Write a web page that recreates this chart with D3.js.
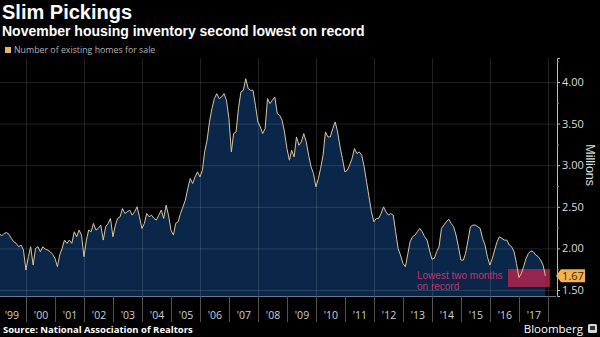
<!DOCTYPE html>
<html>
<head>
<meta charset="utf-8">
<script src="https://cdn.jsdelivr.net/npm/d3@7"></script>
<style>
  html, body { margin: 0; padding: 0; background: #000; }
  svg { display: block; font-family: "Open Sans", sans-serif; }
</style>
</head>
<body>
<svg id="chart" width="600" height="337"></svg>
<script>
// Existing homes for sale, millions, monthly (Jan..Dec)
const inv1999 = [2.18, 2.15, 2.18, 2.19, 2.17, 2.12, 2.08, 2.06, 2.02, 2.04, 1.98, 1.74];
const inv2000 = [1.90, 2.02, 1.80, 2.00, 2.02, 1.96, 2.02, 1.99, 1.98, 1.96, 1.93, 1.88];
const inv2001 = [1.78, 1.92, 2.00, 2.10, 2.06, 2.10, 2.06, 2.20, 2.14, 2.22, 2.16, 1.90];
const inv2002 = [2.10, 2.22, 2.20, 2.30, 2.22, 2.24, 2.28, 2.10, 2.26, 2.30, 2.36, 2.14];
const inv2003 = [2.28, 2.36, 2.38, 2.48, 2.42, 2.44, 2.46, 2.40, 2.44, 2.50, 2.38, 2.24];
const inv2004 = [2.30, 2.42, 2.38, 2.40, 2.36, 2.34, 2.40, 2.46, 2.36, 2.52, 2.40, 2.22];
const inv2005 = [2.16, 2.30, 2.32, 2.42, 2.50, 2.58, 2.72, 2.84, 2.78, 2.86, 2.92, 2.86];
const inv2006 = [2.94, 3.16, 3.30, 3.52, 3.68, 3.80, 3.86, 3.80, 3.82, 3.86, 3.78, 3.56];
const inv2007 = [3.16, 3.38, 3.40, 3.68, 3.88, 3.90, 4.04, 3.92, 3.90, 3.90, 3.72, 3.52];
const inv2008 = [3.46, 3.38, 3.44, 3.80, 3.74, 3.78, 3.82, 3.62, 3.60, 3.54, 3.40, 3.20];
const inv2009 = [3.06, 3.18, 3.10, 3.34, 3.24, 3.28, 3.38, 3.28, 3.12, 2.98, 2.90, 2.74];
const inv2010 = [2.84, 2.96, 3.12, 3.40, 3.34, 3.34, 3.44, 3.52, 3.40, 3.22, 3.08, 2.92];
const inv2011 = [2.94, 3.00, 3.08, 3.20, 3.14, 3.16, 3.12, 2.98, 2.80, 2.62, 2.44, 2.32];
const inv2012 = [2.36, 2.36, 2.42, 2.50, 2.44, 2.40, 2.42, 2.40, 2.20, 2.00, 1.92, 1.82];
const inv2013 = [1.78, 1.92, 2.08, 2.14, 2.16, 2.20, 2.24, 2.20, 2.14, 2.10, 1.98, 1.87];
const inv2014 = [1.88, 1.96, 2.02, 2.24, 2.28, 2.32, 2.35, 2.30, 2.26, 2.16, 2.02, 1.86];
const inv2015 = [1.86, 1.94, 2.10, 2.26, 2.28, 2.28, 2.26, 2.24, 2.12, 2.04, 1.90, 1.80];
const inv2016 = [1.88, 1.98, 2.08, 2.14, 2.12, 2.10, 2.10, 2.04, 2.02, 1.96, 1.82, 1.65];
const inv2017 = [1.70, 1.78, 1.88, 1.94, 1.97, 1.96, 1.92, 1.90, 1.86, 1.80, 1.67];

const startYear = 1999;
const series = [inv1999, inv2000, inv2001, inv2002, inv2003, inv2004, inv2005, inv2006, inv2007,
  inv2008, inv2009, inv2010, inv2011, inv2012, inv2013, inv2014, inv2015, inv2016, inv2017];

const yTicks = [1.5, 2.0, 2.5, 3.0, 3.5, 4.0];
const yMinor = [1.75, 2.25, 2.75, 3.25, 3.75, 4.25];
const lastValue = 1.67;
// "lowest two months" highlight
const lowFrom = new Date(2016, 7, 15), lowTo = new Date(2018, 0, 25);
const lowBottom = 1.536, lowTop = 1.752;

const plot = { left: 0, right: 556, top: 58, bottom: 296 };
const headFont = "Liberation Sans, Arial, sans-serif";

const data = [];
series.forEach((vals, i) => {
  vals.forEach((v, m) => {
    // bloomberg puts monthly points at month end
    data.push({ date: new Date(startYear + i, m + 1, 0), value: v });
  });
});

const svg = d3.select("#chart");

svg.append("rect").attr("width", 600).attr("height", 337).attr("fill", "#000");

// scales: anchor on known positions, then stretch to plot bounds
const x = d3.scaleTime().domain([new Date(2000, 0, 1), new Date(2017, 0, 1)]).range([26, 519]);
x.domain([x.invert(plot.left), x.invert(plot.right)]).range([plot.left, plot.right]);

const y = d3.scaleLinear().domain([1.5, 4]).range([290, 82]);
y.domain([y.invert(plot.bottom), y.invert(plot.top)]).range([plot.bottom, plot.top]);

svg.append("clipPath").attr("id", "clip")
  .append("rect")
  .attr("x", plot.left).attr("y", plot.top)
  .attr("width", plot.right - plot.left).attr("height", plot.bottom - plot.top);

const g = svg.append("g").attr("clip-path", "url(#clip)");

const area = d3.area()
  .x(d => x(d.date))
  .y0(plot.bottom)
  .y1(d => y(d.value));

const line = d3.line()
  .x(d => x(d.date))
  .y(d => y(d.value));

g.append("path")
  .datum(data)
  .attr("d", area)
  .attr("fill", "#0a2649");

// grid on top of the fill
const gridX = g.append("g")
  .attr("transform", "translate(0," + plot.bottom + ")")
  .call(d3.axisBottom(x).ticks(d3.timeYear.every(2)).tickSize(-(plot.bottom - plot.top)).tickFormat(""));
const gridY = g.append("g")
  .attr("transform", "translate(" + plot.right + ",0)")
  .call(d3.axisRight(y).tickValues(yTicks).tickSize(-(plot.right - plot.left)).tickFormat(""));
[gridX, gridY].forEach(a => {
  a.select(".domain").remove();
  a.selectAll("line").attr("stroke", "#fff").attr("stroke-opacity", 0.13);
});

// low highlight box
g.append("rect")
  .attr("x", x(lowFrom))
  .attr("y", y(lowTop))
  .attr("width", x(lowTo) - x(lowFrom))
  .attr("height", y(lowBottom) - y(lowTop))
  .attr("fill", "#b8254f")
  .attr("fill-opacity", 0.8);

g.append("path")
  .datum(data)
  .attr("d", line)
  .attr("fill", "none")
  .attr("stroke", "#d8c6a0")
  .attr("stroke-width", 1);

// plot bottom border
svg.append("line")
  .attr("x1", plot.left).attr("x2", plot.right)
  .attr("y1", plot.bottom + 0.5).attr("y2", plot.bottom + 0.5)
  .attr("stroke", "#6b7a8c");

// year separators
const xTickAxis = svg.append("g")
  .attr("transform", "translate(0," + plot.bottom + ")")
  .call(d3.axisBottom(x).ticks(d3.timeYear.every(1)).tickSize(26).tickFormat(""));
xTickAxis.select(".domain").remove();
xTickAxis.selectAll("line").attr("stroke", "#555");

// year labels centred in each year
const midYears = series.map((s, i) => new Date(startYear + i, 6, 2));
const xLab = svg.append("g")
  .attr("transform", "translate(0," + plot.bottom + ")")
  .call(d3.axisBottom(x).tickValues(midYears).tickSize(0).tickFormat(d3.timeFormat("'%y")));
xLab.select(".domain").remove();
xLab.selectAll("text")
  .attr("y", 23).attr("dy", 0)
  .attr("fill", "#d0d0d0")
  .style("font-size", "10.5px")
  .style("font-family", "Open Sans, sans-serif");

// right axis
const yAx = svg.append("g")
  .attr("transform", "translate(" + (plot.right + 1) + ",0)")
  .call(d3.axisRight(y).tickValues(yTicks).tickSize(3).tickPadding(2).tickFormat(d3.format(".2f")));
yAx.select(".domain").attr("stroke", "#bbb");
yAx.selectAll("line").attr("stroke", "#bbb");
yAx.selectAll("text")
  .attr("fill", "#dcdcdc")
  .style("font-size", "11px")
  .style("font-family", "Open Sans, sans-serif");

const yMin = svg.append("g")
  .attr("transform", "translate(" + (plot.right + 1) + ",0)")
  .call(d3.axisRight(y).tickValues(yMinor).tickSize(2).tickFormat(""));
yMin.select(".domain").remove();
yMin.selectAll("line").attr("stroke", "#888");

svg.append("text")
  .attr("transform", "translate(586," + y(3.0) + ") rotate(90)")
  .attr("text-anchor", "middle")
  .attr("fill", "#dcdcdc")
  .style("font-family", headFont)
  .style("font-size", "12.5px")
  .text("Millions");

// last value marker
const ly = y(lastValue);
svg.append("path")
  .attr("d", `M${plot.right},${ly} L${plot.right + 5},${ly - 6.5} H${plot.right + 29} V${ly + 6.5} H${plot.right + 5} Z`)
  .attr("fill", "#f2b24f");
svg.append("text")
  .attr("x", plot.right + 17).attr("y", ly + 4)
  .attr("text-anchor", "middle")
  .attr("fill", "#3b2608")
  .style("font-size", "11px")
  .text(d3.format(".2f")(lastValue));

// annotation
svg.append("text")
  .attr("x", 417).attr("y", 278.5)
  .attr("fill", "#c8316a")
  .style("font-family", headFont)
  .style("font-size", "10px")
  .text("Lowest two months");
svg.append("text")
  .attr("x", 417).attr("y", 290)
  .attr("fill", "#c8316a")
  .style("font-family", headFont)
  .style("font-size", "10px")
  .text("on record");

// titles
svg.append("text")
  .attr("x", 2).attr("y", 19)
  .attr("fill", "#fff")
  .style("font-family", headFont)
  .style("font-size", "20px")
  .style("font-weight", "bold")
  .text("Slim Pickings");
svg.append("text")
  .attr("x", 2).attr("y", 36.2)
  .attr("fill", "#fff")
  .style("font-family", headFont)
  .style("font-size", "14px")
  .style("font-weight", "bold")
  .text("November housing inventory second lowest on record");

svg.append("rect")
  .attr("x", 5).attr("y", 47).attr("width", 6).attr("height", 6)
  .attr("fill", "#e8b466");
svg.append("text")
  .attr("x", 14).attr("y", 53)
  .attr("fill", "#b5b5b5")
  .style("font-size", "8.8px")
  .text("Number of existing homes for sale");

// footer
svg.append("text")
  .attr("x", 3).attr("y", 333)
  .attr("fill", "#fff")
  .style("font-size", "9.5px")
  .style("font-weight", "bold")
  .text("Source: National Association of Realtors");
svg.append("text")
  .attr("x", 583).attr("y", 333)
  .attr("text-anchor", "end")
  .attr("fill", "#fff")
  .style("font-size", "11.5px")
  .text("Bloomberg");
svg.append("rect")
  .attr("x", 588).attr("y", 324).attr("width", 9).attr("height", 9).attr("rx", 1.5)
  .attr("fill", "#d8d8d8");
svg.append("rect")
  .attr("x", 590).attr("y", 326).attr("width", 5).attr("height", 4)
  .attr("fill", "#333");
</script>
</body>
</html>
